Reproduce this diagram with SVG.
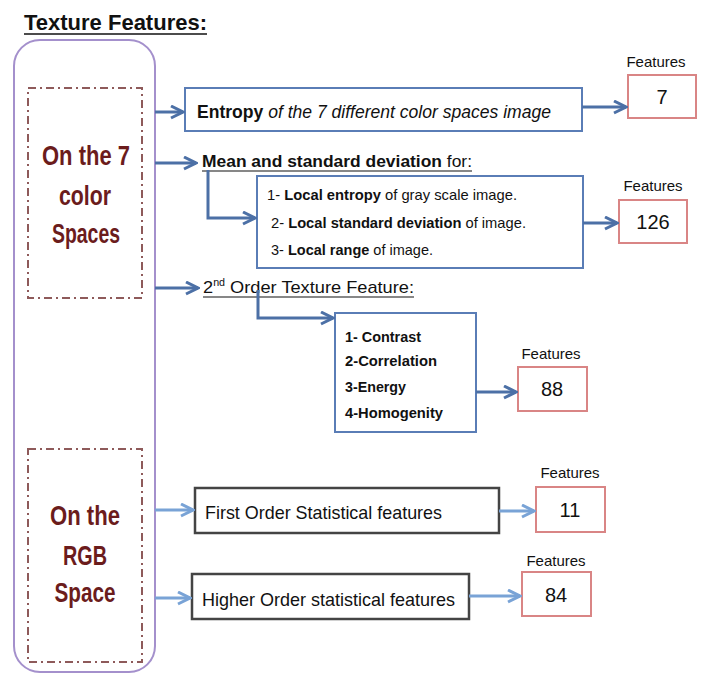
<svg xmlns="http://www.w3.org/2000/svg" width="701" height="677" viewBox="0 0 701 677">
<defs>
<marker id="ah" viewBox="0 0 10 10" refX="9" refY="5" markerWidth="5" markerHeight="5" orient="auto" markerUnits="strokeWidth">
<path d="M1,1 L9,5 L1,9" fill="none" stroke="#4C70A6" stroke-width="2"/>
</marker>
<marker id="ahl" viewBox="0 0 10 10" refX="9" refY="5" markerWidth="5" markerHeight="5" orient="auto" markerUnits="strokeWidth">
<path d="M1,1 L9,5 L1,9" fill="none" stroke="#79A3D6" stroke-width="2"/>
</marker>
</defs>
<style>
text{font-family:"Liberation Sans",Arial,sans-serif;fill:#111;}
.blue{fill:#fff;stroke:#5A7DB6;stroke-width:2;}
.black{fill:#fff;stroke:#444;stroke-width:2.5;}
.red{fill:#fff;stroke:#D98585;stroke-width:2;}
.dd{fill:none;stroke:#8E5A5A;stroke-width:2;stroke-dasharray:8,4,2,4;}
.side{font-weight:bold;font-size:28px;fill:#6B1C1C;text-anchor:middle;}
.conn{fill:none;stroke:#4C70A6;stroke-width:3;}
.connl{fill:none;stroke:#79A3D6;stroke-width:3;}
.flab{font-size:15px;text-anchor:middle;}
.fnum{font-size:20px;text-anchor:middle;}
.sm{font-size:15px;}
</style>

<g id="title">
<text x="24" y="30" font-size="22" font-weight="bold" textLength="183" lengthAdjust="spacingAndGlyphs">Texture Features:</text>
<line x1="24" y1="34" x2="207" y2="34" stroke="#111" stroke-width="1.5"/>
</g>

<g id="outer">
<rect x="14" y="40" width="141" height="632" rx="26" ry="26" fill="none" stroke="#A490CC" stroke-width="2"/>
</g>

<g id="colorSpaces">
<rect class="dd" x="28" y="88" width="114" height="210"/>
<text class="side" x="86" y="165" textLength="88" lengthAdjust="spacingAndGlyphs">On the 7</text>
<text class="side" x="85" y="205" textLength="52" lengthAdjust="spacingAndGlyphs">color</text>
<text class="side" x="86" y="243" textLength="68" lengthAdjust="spacingAndGlyphs">Spaces</text>
</g>

<g id="rgbSpace">
<rect class="dd" x="28" y="449" width="114" height="213"/>
<text class="side" x="85" y="525" textLength="70" lengthAdjust="spacingAndGlyphs">On the</text>
<text class="side" x="85" y="565" textLength="44" lengthAdjust="spacingAndGlyphs">RGB</text>
<text class="side" x="85" y="602" textLength="61" lengthAdjust="spacingAndGlyphs">Space</text>
</g>

<g id="entropy">
<rect class="blue" x="185" y="88" width="397" height="43"/>
<text x="197" y="118" font-size="19" textLength="354" lengthAdjust="spacingAndGlyphs"><tspan font-weight="bold">Entropy</tspan><tspan font-style="italic"> of the 7 different color spaces image</tspan></text>
</g>

<g id="meanStd">
<text x="202" y="167" font-size="17" textLength="270" lengthAdjust="spacingAndGlyphs"><tspan font-weight="bold">Mean and standard deviation</tspan> for:</text>
<line x1="202" y1="171" x2="472" y2="171" stroke="#111" stroke-width="1.2"/>
</g>

<g id="localBox">
<rect class="blue" x="257" y="176" width="326" height="92"/>
<text class="sm" x="267" y="200" textLength="250" lengthAdjust="spacingAndGlyphs">1- <tspan font-weight="bold">Local entropy</tspan> of gray scale image.</text>
<text class="sm" x="271" y="228" textLength="255" lengthAdjust="spacingAndGlyphs">2- <tspan font-weight="bold">Local standard deviation</tspan> of image.</text>
<text class="sm" x="271" y="255" textLength="162" lengthAdjust="spacingAndGlyphs">3- <tspan font-weight="bold">Local range</tspan> of image.</text>
</g>

<g id="secondOrder">
<text x="203" y="293" font-size="17" textLength="211" lengthAdjust="spacingAndGlyphs">2<tspan font-size="10" dy="-7">nd</tspan><tspan dy="7"> Order Texture Feature:</tspan></text>
<line x1="203" y1="297" x2="414" y2="297" stroke="#111" stroke-width="1.2"/>
</g>

<g id="glcmBox">
<rect class="blue" x="335" y="313" width="141" height="119"/>
<text class="sm" x="345" y="342" font-weight="bold" textLength="76" lengthAdjust="spacingAndGlyphs">1- Contrast</text>
<text class="sm" x="345" y="366" font-weight="bold" textLength="92" lengthAdjust="spacingAndGlyphs">2-Correlation</text>
<text class="sm" x="345" y="392" font-weight="bold" textLength="61" lengthAdjust="spacingAndGlyphs">3-Energy</text>
<text class="sm" x="345" y="418" font-weight="bold" textLength="98" lengthAdjust="spacingAndGlyphs">4-Homogenity</text>
</g>

<g id="firstOrder">
<rect class="black" x="195" y="488" width="304" height="45"/>
<text x="205" y="519" font-size="19" textLength="237" lengthAdjust="spacingAndGlyphs">First Order Statistical features</text>
</g>

<g id="higherOrder">
<rect class="black" x="192" y="574" width="277" height="45"/>
<text x="202" y="606" font-size="19" textLength="253" lengthAdjust="spacingAndGlyphs">Higher Order statistical features</text>
</g>

<g id="f7">
<text class="flab" x="656" y="67">Features</text>
<rect class="red" x="628" y="75" width="68" height="43"/>
<text class="fnum" x="662" y="104">7</text>
</g>
<g id="f126">
<text class="flab" x="653" y="191">Features</text>
<rect class="red" x="619" y="200" width="68" height="43"/>
<text class="fnum" x="653" y="229">126</text>
</g>
<g id="f88">
<text class="flab" x="551" y="359">Features</text>
<rect class="red" x="518" y="367" width="69" height="44"/>
<text class="fnum" x="552" y="396">88</text>
</g>
<g id="f11">
<text class="flab" x="570" y="478">Features</text>
<rect class="red" x="536" y="487" width="69" height="45"/>
<text class="fnum" x="570" y="517">11</text>
</g>
<g id="f84">
<text class="flab" x="556" y="566">Features</text>
<rect class="red" x="522" y="572" width="69" height="44"/>
<text class="fnum" x="556" y="602">84</text>
</g>

<g id="connectors">
<line class="conn" x1="155" y1="112" x2="183" y2="112" marker-end="url(#ah)"/>
<line class="conn" x1="582" y1="107" x2="626" y2="107" marker-end="url(#ah)"/>
<line class="conn" x1="155" y1="163" x2="196" y2="163" marker-end="url(#ah)"/>
<polyline class="conn" points="208,170 208,218 255,218" marker-end="url(#ah)"/>
<line class="conn" x1="583" y1="223" x2="617" y2="223" marker-end="url(#ah)"/>
<line class="conn" x1="155" y1="288" x2="198" y2="288" marker-end="url(#ah)"/>
<polyline class="conn" points="258,290 258,318 333,318" marker-end="url(#ah)"/>
<line class="conn" x1="476" y1="392" x2="516" y2="392" marker-end="url(#ah)"/>
<line class="connl" x1="155" y1="510" x2="193" y2="510" marker-end="url(#ahl)"/>
<line class="connl" x1="499" y1="511" x2="534" y2="511" marker-end="url(#ahl)"/>
<line class="connl" x1="155" y1="598" x2="190" y2="598" marker-end="url(#ahl)"/>
<line class="connl" x1="469" y1="596" x2="520" y2="596" marker-end="url(#ahl)"/>
</g>
</svg>
